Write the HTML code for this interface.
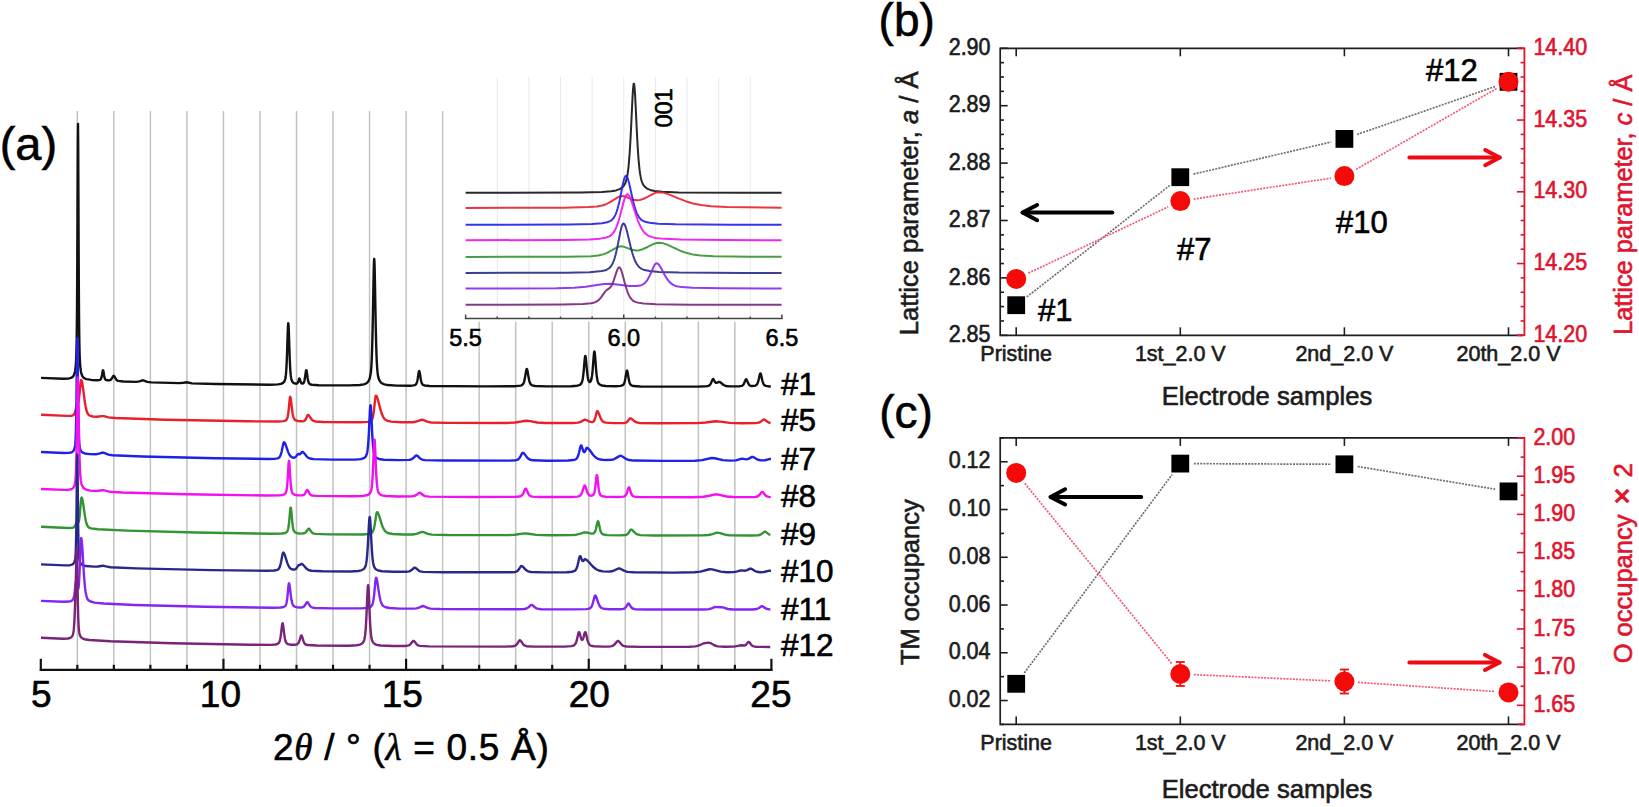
<!DOCTYPE html><html><head><meta charset="utf-8"><title>Figure</title><style>html,body{margin:0;padding:0;background:#fff;overflow:hidden;}svg{display:block;}text{font-family:'Liberation Sans', Arial, Helvetica, sans-serif;stroke-width:0.6px;}</style></head><body>
<svg width="1639" height="807" viewBox="0 0 1639 807" fill="#000">
<rect width="1639" height="807" fill="#fff"/>
<g id="panel-a">
<line x1="77.33" y1="111" x2="77.33" y2="669.8" stroke="#c2c2c2" stroke-width="1.5"/>
<line x1="113.86" y1="111" x2="113.86" y2="669.8" stroke="#c2c2c2" stroke-width="1.5"/>
<line x1="150.39" y1="111" x2="150.39" y2="669.8" stroke="#c2c2c2" stroke-width="1.5"/>
<line x1="186.92" y1="111" x2="186.92" y2="669.8" stroke="#c2c2c2" stroke-width="1.5"/>
<line x1="223.45" y1="111" x2="223.45" y2="669.8" stroke="#c2c2c2" stroke-width="1.5"/>
<line x1="259.98" y1="111" x2="259.98" y2="669.8" stroke="#c2c2c2" stroke-width="1.5"/>
<line x1="296.51" y1="111" x2="296.51" y2="669.8" stroke="#c2c2c2" stroke-width="1.5"/>
<line x1="333.04" y1="111" x2="333.04" y2="669.8" stroke="#c2c2c2" stroke-width="1.5"/>
<line x1="369.57" y1="111" x2="369.57" y2="669.8" stroke="#c2c2c2" stroke-width="1.5"/>
<line x1="406.1" y1="111" x2="406.1" y2="669.8" stroke="#c2c2c2" stroke-width="1.5"/>
<line x1="442.63" y1="111" x2="442.63" y2="669.8" stroke="#c2c2c2" stroke-width="1.5"/>
<line x1="479.16" y1="111" x2="479.16" y2="669.8" stroke="#c2c2c2" stroke-width="1.5"/>
<line x1="515.69" y1="111" x2="515.69" y2="669.8" stroke="#c2c2c2" stroke-width="1.5"/>
<line x1="552.22" y1="111" x2="552.22" y2="669.8" stroke="#c2c2c2" stroke-width="1.5"/>
<line x1="588.75" y1="111" x2="588.75" y2="669.8" stroke="#c2c2c2" stroke-width="1.5"/>
<line x1="625.28" y1="111" x2="625.28" y2="669.8" stroke="#c2c2c2" stroke-width="1.5"/>
<line x1="661.81" y1="111" x2="661.81" y2="669.8" stroke="#c2c2c2" stroke-width="1.5"/>
<line x1="698.34" y1="111" x2="698.34" y2="669.8" stroke="#c2c2c2" stroke-width="1.5"/>
<line x1="734.87" y1="111" x2="734.87" y2="669.8" stroke="#c2c2c2" stroke-width="1.5"/>
<path d="M41 377.83L63 378.76L69 378.45L71 377.93L72 377.42L73 376.54L74 374.9L74.6 373.17L75 371.42L75.2 370.26L75.4 368.84L75.6 367.08L75.8 364.85L76 361.93L76.2 357.93L76.4 352.17L76.6 343.4L76.8 329.72L77 308.66L77.2 277.77L77.4 236L77.6 186.45L77.8 141.51L78 123.92L78.2 146.14L78.4 192.78L78.6 241.82L78.8 282.29L79 311.87L79.2 331.88L79.4 344.84L79.6 353.16L79.8 358.67L80 362.52L80.2 365.36L80.4 367.54L80.6 369.27L80.8 370.67L81.2 372.77L81.8 374.82L82.4 376.13L83.4 377.46L84.4 378.25L86.4 379.1L91.4 379.94L97.4 380.22L100 379.83L100.8 379.13L101.2 378.32L101.6 376.95L102 374.94L102.6 371.36L102.8 370.53L103 370.21L103.2 370.48L103.4 371.28L104.2 375.99L104.6 377.74L105 378.86L105.6 379.72L107 380.32L109.4 380.36L110.8 379.72L111.8 378.49L113.2 376.03L113.8 375.72L114.4 376.35L116 379.28L117 380.34L118.2 380.9L123.2 381.48L136.2 381.83L139.4 381.31L142.4 380.28L144 380.6L147.2 381.89L151.2 382.4L179.2 383.16L183.6 382.78L186.6 382.24L192 383.36L216 384.04L270 384.7L278 384.4L281 383.89L283 382.96L284.2 381.69L284.8 380.48L285.2 379.16L285.4 378.22L285.6 377.03L285.8 375.48L286 373.51L286.2 371.02L286.4 367.91L286.6 364.12L286.8 359.6L287 354.37L287.2 348.53L287.6 335.98L287.8 330.22L288 325.74L288.2 323.31L288.4 323.43L288.6 326.08L288.8 330.71L289 336.55L289.4 349.09L289.6 354.88L289.8 360.05L290 364.5L290.2 368.23L290.4 371.27L290.6 373.71L290.8 375.64L291 377.14L291.2 378.31L291.6 379.94L292.2 381.37L292.8 382.21L293.8 383.05L294.8 383.5L296.6 383.68L297.4 383.24L298 382.22L298.6 380.4L299 379.06L299.2 378.61L299.4 378.45L299.6 378.63L300 379.74L300.6 381.74L301.2 383.02L302 383.61L303 383.45L303.6 382.86L304 382.08L304.4 380.78L304.8 378.82L305.2 376.19L305.8 371.79L306 370.7L306.2 370.1L306.4 370.11L306.6 370.73L306.8 371.84L307.6 377.73L308 380.09L308.4 381.75L309 383.21L309.8 384.06L311.8 384.75L318.8 385.23L349.8 385.42L359.8 384.99L363.8 384.33L365.8 383.58L366.8 382.97L367.8 382.06L368.8 380.65L369.8 378.21L370.8 372.85L371 370.97L371.2 368.63L371.4 365.71L371.6 362.09L371.8 357.64L372 352.25L372.2 345.8L372.4 338.22L372.6 329.51L372.8 319.72L373 309.04L373.4 286.48L373.6 275.92L373.8 267.1L374 261.12L374.2 258.87L374.4 260.74L374.6 266.41L374.8 275.02L375 285.46L375.4 308.02L375.6 318.78L375.8 328.66L376 337.48L376.2 345.17L376.4 351.72L376.6 357.21L376.8 361.75L377 365.44L377.2 368.42L377.4 370.81L377.6 372.74L377.8 374.29L378.2 376.6L378.6 378.2L379.6 380.68L380.6 382.12L381.6 383.05L383.6 384.12L387.6 385.05L396.6 385.66L410.6 385.72L413.6 385.43L414.6 385.19L415.8 384.49L416.4 383.66L417 382.08L417.4 380.44L417.8 378.26L418.6 373.09L418.8 372.05L419 371.33L419.2 371.06L419.4 371.27L419.6 371.93L420 374.17L420.8 379.28L421.2 381.24L421.6 382.67L422.2 384.01L423 384.86L424.6 385.48L429.6 385.95L484.6 386.35L515.6 386.18L520.6 385.62L521.6 385.29L522.8 384.4L523.6 383.04L524.2 381.27L524.8 378.62L525.6 373.92L526.2 370.48L526.4 369.67L526.6 369.15L526.8 368.98L527 369.17L527.2 369.7L527.6 371.57L528.6 377.61L529.2 380.53L529.8 382.57L530.4 383.87L531.2 384.82L532.2 385.39L535.2 386.01L546.2 386.4L571.2 386.23L577.2 385.69L579.2 385.13L580.2 384.62L581.4 383.33L582 381.97L582.4 380.52L582.8 378.44L583.2 375.58L583.6 371.88L584 367.43L584.6 360.38L584.8 358.42L585 356.93L585.2 356.09L585.4 356L585.6 356.67L585.8 358L586 359.85L586.8 368.93L587.2 372.97L587.6 376.17L588 378.52L588.4 380.13L588.8 381.15L589.4 381.89L589.8 382.01L590.8 381.07L591.2 380.02L591.6 378.36L592 375.91L592.2 374.33L592.4 372.51L592.8 368.14L593.6 357.63L593.8 355.24L594 353.29L594.2 352L594.4 351.53L594.6 351.95L594.8 353.19L595 355.12L595.2 357.52L596 368.25L596.4 372.8L596.6 374.72L597 377.83L597.4 380.07L597.8 381.62L598.4 383.08L598.8 383.69L599.8 384.6L601.8 385.44L605.8 386.05L615.8 386.28L620.8 385.92L622.8 385.22L623.6 384.42L624.2 383.25L624.8 381.28L625.4 378.32L626.4 372.27L626.6 371.37L626.8 370.79L627 370.59L627.2 370.81L627.4 371.4L627.8 373.42L628.6 378.37L629.2 381.33L629.8 383.3L630.4 384.47L631.4 385.4L633.4 386.03L640.4 386.5L697.4 386.61L706.4 386.26L708.4 385.9L709.8 385.09L710.8 383.66L712 380.76L712.6 379.41L713 379L713.4 379.13L714.2 380.5L715.2 382.24L716 382.85L717 382.73L719 381.8L720.2 382.15L723.6 385.01L725.8 385.94L729.8 386.39L738.8 386.36L741.8 385.89L743 385.1L743.8 383.95L744.8 381.64L745.6 379.7L746 379.23L746.4 379.34L747 380.46L748.2 383.42L749 384.73L750 385.57L751.6 385.97L754.6 385.83L755.6 385.54L756.8 384.64L757.6 383.23L758.2 381.47L758.8 379.05L759.8 374.56L760.2 373.53L760.4 373.39L760.6 373.53L761 374.54L761.8 378.12L762.4 380.75L763 382.76L763.6 384.12L764.4 385.15L765.8 385.9L769.8 386.46L770.8 386.51" fill="none" stroke="#111111" stroke-width="2.4" stroke-linejoin="round"/>
<path d="M41 414.76L67 415.92L72 415.68L73.4 415.12L74.2 414.17L74.8 412.87L75.4 410.96L76.8 405.34L77.4 403.6L78.2 401.93L78.6 400.56L79 398.36L79.4 395.17L79.8 391.17L80.4 384.75L80.6 382.91L80.8 381.43L81 380.44L81.2 380.02L81.6 380.54L82 381.89L82.4 383.95L83 388.02L84.4 398.92L85 403.11L85.6 406.63L85.8 407.65L86.8 411.55L87.8 413.83L88.8 415.06L89.8 415.7L92.8 416.48L96.8 416.75L101.6 416.1L103.8 416.16L108.4 417.42L115.4 418.06L165.4 419.72L247.4 421.32L278.4 421.51L283.4 421.13L285.4 420.53L286.6 419.53L287.2 418.38L287.6 417.07L288 415.1L288.4 412.3L288.8 408.62L289.6 400.02L289.8 398.32L290 397.21L290.2 396.85L290.4 397.13L290.6 397.91L290.8 399.1L291.2 402.27L292 409.22L292.4 412.14L292.8 414.5L293.2 416.3L293.8 418.13L294.6 419.49L295.6 420.3L297.6 420.98L301.6 421.32L303.6 421.09L305 420.27L306 418.76L307.4 415.54L307.8 415L308.4 415.03L309.4 416.12L311.4 419.09L312.6 420.29L313.6 420.91L315.6 421.49L323.6 422.02L359.6 422.31L367.6 421.92L369.6 421.51L370.6 421.1L371.8 419.96L372.4 418.69L372.8 417.36L373.2 415.51L373.6 413.04L374 409.94L374.6 404.37L375 400.55L375.2 398.83L375.4 397.38L375.6 396.3L375.8 395.7L376.2 395.68L376.8 396.48L377.4 397.99L378.4 401.54L380.4 409.44L381.4 412.76L382.4 415.4L383.4 417.37L384.4 418.77L385.4 419.73L387.4 420.81L391.4 421.66L401.4 422.29L412.4 422.24L415.4 421.79L421.2 419.76L423 419.96L427.2 421.68L431.2 422.45L447.2 422.86L507.2 422.95L515.2 422.55L522.2 421.31L526.4 420.69L530.2 421.13L537.2 422.49L545.2 423.01L572.2 423.07L578.2 422.64L581.2 421.59L584.4 419.78L585.8 419.75L589.6 421.66L591.6 422.08L592.6 421.98L593.8 421.21L594.4 420.26L595 418.72L595.8 415.73L596.6 412.46L597 411.39L597.4 411.15L598 411.72L598.8 413.43L600.6 418.09L601.6 419.98L602.8 421.39L603.8 422.03L605.8 422.6L613.8 423.09L623.8 423L625.8 422.64L627.2 421.75L628.8 419.66L629.8 418.45L630.6 418.35L632 419.18L634.6 421.38L636.6 422.41L639.6 422.98L656.6 423.31L696.6 423.16L705.6 422.54L715.4 421.26L720.4 421.59L729.8 422.85L741.8 423.28L755.8 423.14L758.8 422.68L760.8 421.66L763.4 419.59L764.4 419.5L765.8 420.46L768 422.17L769.6 422.81L770.6 423.01" fill="none" stroke="#e8202c" stroke-width="2.4" stroke-linejoin="round"/>
<path d="M41 451.96L64 453.03L69 452.89L71 452.51L72 452.11L73.2 451.14L74 449.84L74.4 448.77L74.8 447.16L75 445.99L75.2 444.4L75.4 442.14L75.6 438.8L75.8 433.83L76 426.55L76.2 416.3L76.4 402.63L76.6 385.73L76.8 366.9L77 349.32L77.2 338.31L77.4 338.72L77.6 350.36L77.8 368.18L78 386.98L78.2 403.71L78.4 417.17L78.6 427.23L78.8 434.36L79 439.22L79.2 442.49L79.4 444.71L79.6 446.29L79.8 447.45L80.2 449.08L80.8 450.59L81.8 451.97L82.8 452.71L84.8 453.46L89.8 454.15L95.8 454.28L99.2 453.62L102.4 452.54L104.2 452.84L108.4 454.6L112.4 455.23L142.4 456.48L215.4 458.28L268.4 458.96L275.4 458.68L277.4 458.36L278.4 458.01L279.4 457.27L280.4 455.66L281 454.02L281.6 451.75L282.6 446.89L283.2 444.06L283.6 442.76L284 442.25L284.6 442.61L285.2 443.65L286.2 446.35L288 451.62L288.6 453.06L289.6 454.96L290.6 456.26L291.6 457.08L292.6 457.53L293.6 457.71L295 457.42L296.2 456.34L297.8 454.16L298.6 454.02L299.8 454.25L300.6 453.63L302 451.91L302.8 451.99L304 453.08L306.8 456.57L307.8 457.45L309.8 458.5L313.8 459.16L331.8 459.67L354.8 459.63L360.8 459.12L363.8 458.19L364.8 457.54L365.8 456.43L366.8 454.06L367.2 452.28L367.4 451.1L367.6 449.67L367.8 447.96L368 445.92L368.2 443.53L368.4 440.75L368.6 437.59L368.8 434.04L369 430.14L369.6 417.26L369.8 413.15L370 409.58L370.2 406.88L370.4 405.36L370.6 405.22L370.8 406.48L371 408.97L371.2 412.4L371.4 416.43L372 429.35L372.2 433.32L372.4 436.94L372.6 440.19L372.8 443.04L373 445.51L373.2 447.62L373.4 449.4L373.6 450.88L374 453.13L374.4 454.65L375 456.09L376 457.41L377 458.15L379 458.97L384 459.71L399 460.12L409 459.89L411 459.49L412 459.06L413.8 457.63L415.8 455.6L416.8 455.4L418 456.32L420.2 458.56L422 459.56L425 460.09L444 460.48L510 460.58L516 460.23L518 459.53L519.4 458.15L520.6 456.09L522 453.4L522.6 452.81L523.4 452.93L524.6 454.15L527.2 457.66L528.2 458.62L530.2 459.75L533.2 460.32L547.2 460.69L568.2 460.51L573.2 460.07L575.2 459.55L576.2 458.97L577.4 457.48L578.2 455.59L579 452.78L580.2 447.56L580.6 446.19L581 445.45L581.4 445.51L581.8 446.3L583.2 450.83L583.8 451.96L584.4 452.13L585 451.4L586.4 448.17L586.8 447.74L588 448.33L589.6 450.06L593.4 455.23L595.4 457.24L597.4 458.55L600.4 459.56L605.4 460.07L611.4 459.9L614.4 459.1L617.6 457.14L619.6 455.91L621 455.81L622.8 456.78L626 458.97L629 460.05L634 460.57L664 460.9L695 460.71L702 460.11L711.6 458.03L714.8 458.26L722.8 460.08L729.8 460.6L735.8 460.36L739.4 459.39L742 458.68L746.4 459.34L748.4 458.9L752 456.91L753.2 456.95L755.8 458.59L758 459.78L761 460.41L765 460.26L770.2 458.94L771 459.01" fill="none" stroke="#2020e6" stroke-width="2.4" stroke-linejoin="round"/>
<path d="M41 488.95L64 489.89L69 489.68L71 489.27L72 488.85L73 488.12L74 486.72L74.6 485.19L75 483.55L75.2 482.37L75.4 480.8L75.6 478.62L75.8 475.54L76 471.17L76.2 465.06L76.4 456.74L76.6 445.89L76.8 432.48L77 416.97L77.2 400.75L77.4 386.47L77.6 377.89L77.8 377.49L78 382.27L78.2 390.73L78.4 401.44L78.8 424.52L79 435.21L79.2 444.74L79.4 452.96L79.6 459.86L79.8 465.5L80 470.02L80.2 473.59L80.4 476.39L80.6 478.56L80.8 480.26L81 481.6L81.4 483.56L82 485.43L83.2 487.54L84.2 488.54L86.2 489.65L90.2 490.59L96.2 491.01L100.4 490.5L103 490.19L109.4 491.7L122.4 492.46L186.4 494.24L266.4 495.49L279.4 495.34L282.4 494.98L284.4 494.26L285.6 493.1L286.2 491.72L286.6 490.03L286.8 488.82L287 487.3L287.2 485.42L287.4 483.14L287.6 480.45L287.8 477.37L288.4 466.92L288.6 463.86L288.8 461.69L289 460.8L289.2 461.39L289.4 463.32L289.6 466.22L290.2 476.68L290.4 479.84L290.6 482.62L290.8 484.99L291 486.96L291.2 488.56L291.4 489.83L291.8 491.61L292.2 492.69L293 493.83L294.6 494.77L297.6 495.34L301.6 495.4L303.6 494.96L304.6 494.17L305.6 492.6L306.8 490.25L307.4 489.93L308 490.64L309.6 493.78L310.6 494.88L311.8 495.44L316.8 495.92L352.8 496.23L362.8 495.93L366.8 495.29L368.8 494.38L369.8 493.47L370.8 491.63L371.2 490.24L371.6 488.11L371.8 486.64L372 484.82L372.2 482.6L372.4 479.93L372.6 476.77L372.8 473.09L373 468.92L373.2 464.29L373.8 449.3L374 444.92L374.2 441.58L374.4 439.77L374.6 439.75L374.8 441.55L375 444.86L375.2 449.23L375.8 464.23L376 468.87L376.2 473.05L376.4 476.74L376.6 479.91L376.8 482.59L377 484.82L377.2 486.64L377.4 488.12L377.8 490.27L378.2 491.66L378.8 492.95L380 494.3L382 495.32L386 496.04L398 496.5L412 496.37L415 495.77L417 494.54L419 492.92L420 492.78L421.4 493.7L423.6 495.44L425.2 496.11L429.2 496.59L473.2 496.96L515.2 496.87L519.2 496.56L521.2 495.93L522.4 494.83L523.4 493.09L525 489.31L525.6 488.62L526.2 488.98L527 490.67L528.2 493.51L529.2 495.09L530.2 495.95L532.2 496.59L540.2 497.01L571.2 496.97L577.2 496.58L579.2 496.11L580.2 495.53L581.4 494.02L582.2 492.2L583.4 488.33L584 486.48L584.4 485.71L584.8 485.55L585.2 486.02L585.8 487.63L587 491.52L587.8 493.44L588.8 494.87L590.2 495.62L591.2 495.69L592.2 495.5L593.4 494.68L594 493.6L594.4 492.35L594.8 490.48L595.2 487.85L595.6 484.47L596.2 478.7L596.4 477.03L596.6 475.76L596.8 475.09L597 475.11L597.2 475.82L597.4 477.12L597.8 480.74L598.4 486.42L598.8 489.45L599.2 491.71L599.6 493.27L600.2 494.67L601 495.58L602.4 496.25L606.4 496.84L618.4 497L623.4 496.61L624.4 496.31L625.6 495.39L626.4 494.04L627.2 491.81L628.2 488.38L628.6 487.46L629 487.26L629.4 487.87L630.2 490.45L631 493.07L631.8 494.85L632.8 496L634.4 496.65L640.4 497.11L692.4 497.18L703.4 496.77L709.4 495.75L715.2 494.41L718.4 494.55L726.8 496.48L733.8 497.06L751.8 497.13L755.8 496.86L757.8 496.27L759.4 495L761.6 492.19L762.4 491.85L763.2 492.39L765.6 495.42L766.8 496.29L768.8 496.89L770.8 497.09" fill="none" stroke="#f010f0" stroke-width="2.4" stroke-linejoin="round"/>
<path d="M41 526.68L68 527.96L72 527.84L73.8 527.36L74.6 526.65L75.4 525.18L76.6 521.98L77 521.49L77.6 521.83L78.2 522.26L78.6 521.82L78.8 521.25L79 520.42L79.2 519.29L79.4 517.88L79.6 516.17L80 512L80.8 502.45L81 500.44L81.2 498.86L81.4 497.85L81.6 497.52L82 498.03L82.4 499.37L82.8 501.4L83.4 505.3L84.6 513.85L85.2 517.61L85.8 520.71L86 521.58L87 524.87L88 526.68L89 527.62L91 528.39L98 529.26L127 530.61L196 532.53L270 533.7L282 533.48L285 532.97L286 532.55L287.2 531.41L287.8 530.07L288.2 528.54L288.6 526.27L289 523.09L289.4 519L290 512.03L290.2 510L290.4 508.45L290.6 507.6L290.8 507.6L291 508.43L291.2 509.97L291.4 512L292 518.98L292.4 523.08L292.8 526.27L293.2 528.55L293.6 530.09L294.2 531.44L295.2 532.47L297.2 533.23L301.2 533.6L304.2 533.29L305.6 532.51L306.8 531.08L308.2 528.98L308.8 528.63L309.4 528.96L311.6 532.19L313 533.31L315.4 533.9L328.4 534.34L362.4 534.43L368.4 534.04L370.4 533.62L371.4 533.18L372.4 532.25L373.4 530.23L374 528.14L374.6 525.24L375.2 521.57L376.2 515.02L376.6 513.11L376.8 512.51L377 512.21L377.6 512.43L378.2 513.34L379 515.37L381.6 523.87L382.6 526.63L383.6 528.82L384.6 530.46L385.6 531.62L386.6 532.41L388.6 533.3L392.6 534.01L403.6 534.55L412.6 534.48L416.6 533.84L421.8 531.97L423.6 532.16L427.8 533.87L431.8 534.65L447.8 535.05L506.8 535.15L514.8 534.72L524.4 533.38L528.8 533.8L536.4 534.91L549.4 535.3L571.4 535.16L576.4 534.69L580.4 533.64L584.4 532.39L586.8 532.52L591.6 533.67L592.6 533.67L593.6 533.41L594.8 532.19L595.4 530.84L596 528.78L597.4 522.37L597.8 521.34L598 521.21L598.2 521.38L598.6 522.49L599.4 526.29L600 529.07L600.6 531.18L601.2 532.61L602 533.7L603.4 534.49L607.4 535.11L620.4 535.34L625.4 535.07L626.4 534.81L627.8 533.88L629 532.22L630.4 529.9L631 529.52L632 529.88L635.4 533.2L637.4 534.44L640.4 535.12L654.4 535.5L702.4 535.42L708.4 535.01L712.4 534.09L716.8 532.72L719.2 532.83L725.2 534.69L730.2 535.33L751.2 535.53L758.2 535.24L760.2 534.76L762.2 533.57L764.4 531.81L765.4 531.73L767 532.87L769.2 534.5L770.4 534.98" fill="none" stroke="#339433" stroke-width="2.4" stroke-linejoin="round"/>
<path d="M41 564.37L65 565.4L70 565.2L72 564.69L73.4 563.7L74.2 562.43L74.6 561.35L75 559.66L75.2 558.39L75.4 556.6L75.6 553.92L75.8 549.78L76 543.41L76.2 533.92L76.4 520.61L76.6 503.43L76.8 483.71L77 465.26L77.2 454.79L77.4 457.86L77.6 472.7L77.8 492.39L78 511.32L78.2 526.92L78.4 538.54L78.6 546.6L78.8 551.92L79 555.36L79.2 557.62L79.4 559.17L79.6 560.3L80 561.86L80.6 563.27L81.6 564.53L82.8 565.28L85.8 566.05L93.8 566.64L97.8 566.52L102.8 565.7L106 566.44L110.4 567.29L136.4 568.36L211.4 570.13L266.4 570.79L274.4 570.5L277.4 569.86L278.4 569.22L279.4 567.79L280 566.27L280.6 564.11L281.2 561.29L282.4 554.87L282.8 553.33L283 552.85L283.4 552.6L284 553.17L284.6 554.44L285.8 558.14L287.2 562.59L287.8 564.19L288.8 566.32L289.8 567.79L290.8 568.73L291.8 569.28L293.8 569.68L295.4 569.28L296.4 568.37L298.2 565.55L299 565.06L300.2 564.74L301.6 563.82L302.6 564.3L304.4 566.32L306.4 568.6L308.4 569.99L311.4 570.78L322.4 571.32L350.4 571.44L358.4 570.96L361.4 570.3L363.4 569.28L364.4 568.29L365.4 566.38L365.8 565.04L366.2 563.15L366.6 560.49L366.8 558.8L367 556.83L367.2 554.57L367.4 551.99L367.6 549.1L367.8 545.89L368.2 538.68L368.8 527.02L369 523.49L369.2 520.5L369.4 518.28L369.6 517.07L369.8 516.98L370 518.02L370.2 520.09L370.4 522.97L370.6 526.44L371.4 541.84L371.6 545.37L371.8 548.63L372 551.57L372.2 554.2L372.4 556.52L372.6 558.54L372.8 560.27L373.2 563.02L373.6 564.96L374.2 566.87L375.2 568.57L376.2 569.48L378.2 570.46L382.2 571.26L393.2 571.79L406.2 571.74L409.2 571.33L411.2 570.36L414.2 567.75L415.2 567.67L416.6 568.77L418.8 570.69L420.2 571.35L423.2 571.85L444.2 572.22L510.2 572.3L515.2 571.96L516.2 571.69L517.8 570.66L519.2 568.82L520.8 566.37L521.4 565.99L522.4 566.3L524.2 568.16L526 570.06L528 571.35L531 572.04L544 572.41L567 572.2L572 571.73L574 571.19L575 570.62L576.2 569.17L577 567.34L577.6 565.33L578.4 561.88L579.2 558.23L579.6 556.85L580 556.15L580.4 556.22L581 557.46L582 560.11L582.6 560.95L583.2 560.99L584.2 559.86L585 559.1L586.6 559.97L589 562.25L592.8 566.48L595.8 568.98L598.8 570.48L602.8 571.39L608.8 571.65L611.8 571.29L615 570.07L618.2 568.46L619.8 568.49L624.4 570.93L627.4 571.83L633.4 572.32L673.4 572.58L694.4 572.28L700.4 571.58L709.4 569.25L712.2 569.37L720.8 571.63L726.8 572.22L733.8 572.15L737.4 571.42L740.8 570.33L745.2 570.71L747.2 570.09L750 568.58L751.4 568.68L755 571L757 571.79L760 572.2L764 572.03L769.4 570.65L771 570.9" fill="none" stroke="#28288a" stroke-width="2.4" stroke-linejoin="round"/>
<path d="M41 600.84L63 601.8L69 601.57L71 601.11L72.4 600.29L73.2 599.11L73.6 598.04L74 596.44L74.4 594.17L74.8 591.18L75.6 583.93L75.8 582.39L76 581.26L76.2 580.68L76.4 580.73L76.6 581.36L76.8 582.43L77.4 586.5L77.6 587.63L77.8 588.45L78 588.87L78.2 588.82L78.4 588.23L78.6 587.03L78.8 585.16L79 582.58L79.2 579.28L79.4 575.27L79.6 570.61L79.8 565.42L80.2 554.21L80.4 548.79L80.6 544.03L80.8 540.4L81 538.34L81.2 538.06L81.4 538.68L81.6 539.9L81.8 541.67L82 543.92L82.2 546.56L82.6 552.68L83.6 569.29L84 575.34L84.4 580.69L84.8 585.24L85.2 588.98L85.6 591.97L86.6 596.79L87.6 599.16L88.6 600.36L90.6 601.53L94.6 602.6L103.6 603.56L134.6 604.95L204.6 606.77L272.6 607.73L280.6 607.5L283.6 606.96L284.6 606.5L285.6 605.47L286.2 604.11L286.6 602.56L287 600.28L287.4 597.14L287.8 593.19L288.4 586.73L288.6 584.99L288.8 583.79L289 583.31L289.2 583.51L289.4 584.21L289.6 585.32L290 588.4L290.8 595.29L291.2 598.21L291.6 600.58L292 602.4L292.6 604.26L293.4 605.64L294.6 606.56L296.6 607.18L300.6 607.47L302.6 607.19L304 606.38L305.2 604.87L306.6 602.56L307.2 602.1L307.8 602.39L309.2 604.69L310.4 606.38L311.8 607.38L314.8 607.96L332.8 608.41L361.8 608.4L367.8 607.88L369.8 607.31L370.8 606.76L372 605.33L372.6 603.85L373 602.34L373.4 600.26L373.8 597.52L374.2 594.07L374.8 587.81L375.2 583.43L375.4 581.45L375.6 579.78L375.8 578.55L376 577.89L376.2 577.82L376.4 578.06L376.8 579.25L377.2 581.22L377.8 585.04L379 593.12L379.6 596.54L380.2 599.35L380.6 600.87L381.6 603.65L382.6 605.29L383.6 606.25L385.6 607.23L389.6 608.03L399.6 608.62L413.6 608.65L416.6 608.33L419.6 607.29L422.4 606.04L424 606.22L427.4 607.89L430.4 608.63L440.4 609.03L518.4 609.25L524.4 608.98L526.4 608.54L528.2 607.52L531 604.98L532 604.88L533.4 605.98L535.6 607.94L537.2 608.68L541.2 609.19L572.2 609.42L586.2 609.12L589.2 608.65L590.2 608.21L591.4 606.92L592.2 605.21L593 602.61L594.4 597.01L594.8 595.93L595.2 595.52L595.8 595.98L596.4 597.26L598.4 603.25L599.4 605.53L600.6 607.26L601.6 608.05L603.6 608.74L609.6 609.23L620.6 609.22L623.6 608.82L625 608.08L626.2 606.67L627.8 604.01L628.4 603.54L629 603.8L630.2 605.71L631.4 607.52L632.6 608.53L635 609.18L647 609.53L704 609.46L709 609.08L712.2 608.07L715.2 606.85L717.6 607.07L720.6 607.24L723 607.38L727.8 609L732.8 609.46L752.8 609.46L756.8 609.01L759 607.98L761.4 606.3L762.4 606.22L764.2 607.38L766.4 608.74L769.4 609.38L770.4 609.45" fill="none" stroke="#8426f0" stroke-width="2.4" stroke-linejoin="round"/>
<path d="M41 637.75L63 638.75L68 638.51L70 638.01L71 637.47L72.2 636.2L72.8 634.91L73.2 633.42L73.4 632.36L73.6 630.99L73.8 629.23L74 627.01L74.2 624.25L74.4 620.87L74.6 616.83L74.8 612.08L75 606.66L75.2 600.7L75.4 594.34L75.6 587.65L75.8 580.48L76 572.55L76.4 555.48L76.6 549.23L76.8 547.77L77 552.57L77.2 562.53L77.6 587.67L77.8 599.01L78 608.46L78.2 615.9L78.4 621.5L78.6 625.58L78.8 628.5L79 630.58L79.2 632.09L79.4 633.21L79.8 634.78L80.4 636.24L81.4 637.63L82.4 638.4L84.4 639.22L89.4 640.03L110.4 641.22L172.4 643.25L250.4 644.8L271.4 644.84L275.4 644.51L277.4 643.97L278.6 643.13L279.2 642.23L279.8 640.62L280.2 638.95L280.6 636.68L281 633.81L281.8 627.02L282 625.49L282.2 624.27L282.4 623.49L282.6 623.23L282.8 623.53L283 624.36L283.2 625.61L283.6 628.86L284.2 633.95L284.6 636.81L285 639.05L285.4 640.7L286 642.3L286.8 643.4L288 644.12L291 644.72L295 644.75L297 644.33L298.2 643.37L299 641.94L299.8 639.63L300.8 636.27L301.2 635.5L301.6 635.5L302 636.26L303.4 640.95L304.2 642.86L305 643.96L305.8 644.52L307.8 645.05L316.8 645.52L348.8 645.68L356.8 645.25L359.8 644.65L361.8 643.72L362.8 642.83L363.8 641.2L364.4 639.34L364.8 637.35L365 636.02L365.2 634.42L365.4 632.5L365.6 630.22L365.8 627.54L366 624.44L366.2 620.91L366.4 616.95L366.6 612.61L367.2 598.31L367.4 593.77L367.6 589.85L367.8 586.92L368 585.32L368.2 585.25L368.4 586.73L368.6 589.56L368.8 593.41L369 597.91L369.6 612.23L369.8 616.6L370 620.6L370.2 624.18L370.4 627.32L370.6 630.04L370.8 632.36L371 634.31L371.2 635.94L371.6 638.4L372 640.07L372.6 641.66L373.6 643.1L374.6 643.93L376.6 644.82L380.6 645.54L392.6 646.05L405.6 645.95L408.6 645.42L410.2 644.39L412 642.15L413 641.02L413.8 640.89L414.8 641.86L416.8 644.41L418 645.29L420 645.91L429 646.34L505 646.61L513 646.27L515 645.75L516.4 644.78L517.8 642.96L519.2 640.77L519.8 640.29L520.4 640.39L521.4 641.65L523.2 644.36L524.4 645.45L526.4 646.2L533.4 646.64L564.4 646.62L571.4 646.15L573.4 645.65L574.4 645.1L575.6 643.58L576.2 642.16L576.8 640.16L577.8 635.73L578.4 633.23L578.8 632.26L579.2 632.17L579.6 632.97L580.4 635.95L581 638.13L581.6 639.57L582.2 640.02L582.8 639.42L583.4 637.85L584.6 633.32L585 632.32L585.4 632.14L585.8 632.88L586.4 635.22L587.4 639.72L588 641.84L588.6 643.36L589.4 644.62L590.8 645.61L593.8 646.27L602.8 646.64L609.8 646.44L611.8 646.11L612.8 645.75L614.4 644.63L617.2 641.28L618 640.9L618.8 641.27L621.8 644.83L623.4 645.88L626.4 646.53L640.4 646.9L689.4 646.8L695.4 646.41L698.4 645.69L704 643.24L708.6 642.61L710.4 643.07L714.8 645.5L717.8 646.33L724.8 646.78L733.8 646.67L738 645.89L741 645.3L744.4 645.54L745.8 644.9L747.2 643.29L748.2 642.07L748.8 641.88L749.6 642.54L751.4 645.05L752.8 646.13L755.2 646.69L769.2 647.03L770.2 647.03" fill="none" stroke="#782478" stroke-width="2.4" stroke-linejoin="round"/>
<line x1="39.8" y1="669.8" x2="772.4" y2="669.8" stroke="#111" stroke-width="2.2"/>
<line x1="40.8" y1="670.8" x2="40.8" y2="658.8" stroke="#111" stroke-width="2.2"/>
<line x1="77.33" y1="670.8" x2="77.33" y2="664.8" stroke="#111" stroke-width="2.2"/>
<line x1="113.86" y1="670.8" x2="113.86" y2="664.8" stroke="#111" stroke-width="2.2"/>
<line x1="150.39" y1="670.8" x2="150.39" y2="664.8" stroke="#111" stroke-width="2.2"/>
<line x1="186.92" y1="670.8" x2="186.92" y2="664.8" stroke="#111" stroke-width="2.2"/>
<line x1="223.45" y1="670.8" x2="223.45" y2="658.8" stroke="#111" stroke-width="2.2"/>
<line x1="259.98" y1="670.8" x2="259.98" y2="664.8" stroke="#111" stroke-width="2.2"/>
<line x1="296.51" y1="670.8" x2="296.51" y2="664.8" stroke="#111" stroke-width="2.2"/>
<line x1="333.04" y1="670.8" x2="333.04" y2="664.8" stroke="#111" stroke-width="2.2"/>
<line x1="369.57" y1="670.8" x2="369.57" y2="664.8" stroke="#111" stroke-width="2.2"/>
<line x1="406.1" y1="670.8" x2="406.1" y2="658.8" stroke="#111" stroke-width="2.2"/>
<line x1="442.63" y1="670.8" x2="442.63" y2="664.8" stroke="#111" stroke-width="2.2"/>
<line x1="479.16" y1="670.8" x2="479.16" y2="664.8" stroke="#111" stroke-width="2.2"/>
<line x1="515.69" y1="670.8" x2="515.69" y2="664.8" stroke="#111" stroke-width="2.2"/>
<line x1="552.22" y1="670.8" x2="552.22" y2="664.8" stroke="#111" stroke-width="2.2"/>
<line x1="588.75" y1="670.8" x2="588.75" y2="658.8" stroke="#111" stroke-width="2.2"/>
<line x1="625.28" y1="670.8" x2="625.28" y2="664.8" stroke="#111" stroke-width="2.2"/>
<line x1="661.81" y1="670.8" x2="661.81" y2="664.8" stroke="#111" stroke-width="2.2"/>
<line x1="698.34" y1="670.8" x2="698.34" y2="664.8" stroke="#111" stroke-width="2.2"/>
<line x1="734.87" y1="670.8" x2="734.87" y2="664.8" stroke="#111" stroke-width="2.2"/>
<line x1="771.4" y1="670.8" x2="771.4" y2="658.8" stroke="#111" stroke-width="2.2"/>
<text x="41.3" y="706.5" font-size="37" text-anchor="middle" stroke="#000">5</text>
<text x="220.45" y="706.5" font-size="37" text-anchor="middle" stroke="#000">10</text>
<text x="402.3" y="706.5" font-size="37" text-anchor="middle" stroke="#000">15</text>
<text x="589.25" y="706.5" font-size="37" text-anchor="middle" stroke="#000">20</text>
<text x="770.9" y="706.5" font-size="37" text-anchor="middle" stroke="#000">25</text>
<text x="273" y="760" font-size="37" letter-spacing="0.7" stroke="#000">2<tspan font-family="'Liberation Serif', 'Times New Roman', serif" font-style="italic">θ</tspan> / ° (<tspan font-family="'Liberation Serif', 'Times New Roman', serif" font-style="italic">λ</tspan> = 0.5 Å)</text>
<text x="781" y="394.5" font-size="31.5" stroke="#000">#1</text>
<text x="781" y="431.3" font-size="31.5" stroke="#000">#5</text>
<text x="781" y="469.7" font-size="31.5" stroke="#000">#7</text>
<text x="781" y="506.5" font-size="31.5" stroke="#000">#8</text>
<text x="781" y="545.4" font-size="31.5" stroke="#000">#9</text>
<text x="781" y="582.1" font-size="31.5" stroke="#000">#10</text>
<text x="781" y="619.7" font-size="31.5" stroke="#000">#11</text>
<text x="781" y="656.3" font-size="31.5" stroke="#000">#12</text>
<text x="-0.3" y="159.6" font-size="47" stroke="#000">(a)</text>
</g>
<g id="inset">
<rect x="461" y="70" width="334" height="251.6" fill="#fff"/>
<line x1="497.23" y1="77" x2="497.23" y2="318.6" stroke="#e9e9e9" stroke-width="1"/>
<line x1="528.86" y1="77" x2="528.86" y2="318.6" stroke="#e9e9e9" stroke-width="1"/>
<line x1="560.49" y1="77" x2="560.49" y2="318.6" stroke="#e9e9e9" stroke-width="1"/>
<line x1="592.12" y1="77" x2="592.12" y2="318.6" stroke="#e9e9e9" stroke-width="1"/>
<line x1="623.75" y1="77" x2="623.75" y2="318.6" stroke="#e9e9e9" stroke-width="1"/>
<line x1="655.38" y1="77" x2="655.38" y2="318.6" stroke="#e9e9e9" stroke-width="1"/>
<line x1="687.01" y1="77" x2="687.01" y2="318.6" stroke="#e9e9e9" stroke-width="1"/>
<line x1="718.64" y1="77" x2="718.64" y2="318.6" stroke="#e9e9e9" stroke-width="1"/>
<line x1="750.27" y1="77" x2="750.27" y2="318.6" stroke="#e9e9e9" stroke-width="1"/>
<path d="M465.6 192.77L580.6 192.52L602.1 192.03L611.1 191.32L616.1 190.4L619.6 189.14L621.6 187.94L623.1 186.6L624.1 185.33L625.1 183.57L625.6 182.4L626.1 180.95L626.6 179.13L627.1 176.85L627.6 173.98L628.1 170.37L628.6 165.89L629.1 160.41L629.6 153.81L630.1 146.04L630.6 137.12L631.1 127.19L632.1 105.93L632.6 96.1L633.1 88.35L633.6 83.95L634.1 83.76L634.6 87.82L635.1 95.33L635.6 105.03L636.6 126.3L637.1 136.3L637.6 145.31L638.1 153.18L638.6 159.88L639.1 165.46L639.6 170.02L640.1 173.7L640.6 176.63L641.1 178.96L641.6 180.81L642.1 182.29L642.6 183.48L643.6 185.27L645.1 187.06L647.1 188.58L650.1 189.94L654.6 191.02L662.1 191.83L678.6 192.41L740.1 192.73L781.6 192.76" fill="none" stroke="#111111" stroke-width="2" stroke-linejoin="round" opacity="0.9"/>
<path d="M465.6 208.01L563.1 207.67L588.6 207.11L597.1 206.46L602.1 205.53L606.1 204.19L610.1 202.17L617.6 197.4L620.1 196.35L622.1 196.05L624.6 196.41L629.6 198.42L633.6 199.81L636.6 200.23L639.6 200.02L643.1 199.02L647.6 196.85L653.6 193.57L656.6 192.47L659.1 192.18L663.1 192.62L667.6 193.87L677.1 197.81L685.6 201.17L693.1 203.42L701.1 205.03L711.1 206.19L727.1 207.01L765.1 207.62L781.6 207.74" fill="none" stroke="#e8202c" stroke-width="2" stroke-linejoin="round" opacity="0.9"/>
<path d="M465.6 224.76L569.6 224.5L592.1 223.97L602.1 223.19L607.1 222.27L610.1 221.13L612.1 219.7L613.6 217.98L614.6 216.39L615.6 214.34L616.6 211.76L617.6 208.59L618.6 204.82L619.6 200.48L621.1 193.14L622.6 185.56L623.6 181.06L624.1 179.19L624.6 177.67L625.1 176.56L625.6 175.94L626.1 175.82L626.6 176.14L627.1 176.88L627.6 178L628.1 179.46L628.6 181.19L629.6 185.28L632.6 198.92L633.6 203.05L634.6 206.73L635.6 209.92L636.6 212.6L637.6 214.82L639.1 217.36L640.6 219.14L642.6 220.69L645.1 221.81L649.6 222.84L658.1 223.7L675.6 224.33L731.6 224.69L781.6 224.75" fill="none" stroke="#2020e6" stroke-width="2" stroke-linejoin="round" opacity="0.9"/>
<path d="M465.6 240.25L565.1 239.96L589.1 239.42L600.1 238.63L605.6 237.69L608.6 236.67L610.6 235.51L612.1 234.21L613.6 232.39L615.1 229.91L616.6 226.62L618.1 222.46L619.6 217.44L621.1 211.74L623.1 203.82L624.1 200.2L625.1 197.2L625.6 196.04L626.1 195.15L626.6 194.57L627.1 194.31L627.6 194.36L628.1 194.63L629.1 195.77L630.1 197.64L631.1 200.09L632.6 204.46L636.1 215.48L637.6 219.77L639.1 223.56L640.6 226.79L642.1 229.45L643.6 231.59L645.6 233.74L648.1 235.56L651.1 236.88L655.6 237.94L664.1 238.87L681.1 239.61L724.1 240.08L781.6 240.21" fill="none" stroke="#f010f0" stroke-width="2" stroke-linejoin="round" opacity="0.9"/>
<path d="M465.6 256.93L568.6 256.63L591.1 256.13L598.1 255.49L603.1 254.38L607.1 252.84L612.1 250.09L616.6 247.53L619.1 246.61L621.6 246.37L624.1 246.82L632.1 249.78L635.6 250.4L639.1 250.21L642.6 249.26L647.6 246.97L653.6 243.96L656.6 242.98L659.1 242.71L662.6 243.13L666.6 244.43L680.1 250.7L686.1 252.84L692.6 254.39L700.6 255.46L713.6 256.16L751.1 256.69L781.6 256.82" fill="none" stroke="#339433" stroke-width="2" stroke-linejoin="round" opacity="0.9"/>
<path d="M465.6 272.96L567.1 272.69L589.6 272.16L599.6 271.37L604.6 270.44L607.1 269.53L609.1 268.26L610.6 266.73L611.6 265.31L612.6 263.47L613.6 261.12L614.6 258.2L615.6 254.68L616.6 250.56L617.6 245.9L620.1 233.21L620.6 230.85L621.1 228.69L621.6 226.82L622.1 225.3L622.6 224.22L623.1 223.62L623.6 223.52L624.1 223.82L624.6 224.47L625.1 225.45L625.6 226.72L626.1 228.25L627.1 231.88L629.1 240.28L630.6 246.57L632.1 252.23L633.1 255.51L634.1 258.38L635.1 260.82L636.6 263.75L638.1 265.91L639.6 267.46L641.6 268.85L644.6 270.07L649.6 271.07L659.1 271.93L679.1 272.55L745.1 272.9L781.6 272.94" fill="none" stroke="#28288a" stroke-width="2" stroke-linejoin="round" opacity="0.9"/>
<path d="M465.6 288.54L556.6 288.26L574.1 287.72L585.6 286.68L603.6 284.08L609.6 283.86L617.1 284.49L629.6 285.93L636.1 286.09L640.1 285.58L642.6 284.65L644.6 283.26L646.1 281.68L647.6 279.55L649.1 276.84L651.1 272.48L653.6 266.79L654.6 264.97L655.6 263.73L656.1 263.4L657.1 263.35L658.1 263.9L659.1 264.96L660.6 267.26L665.1 275.72L667.1 278.96L669.1 281.54L671.1 283.46L673.6 285.08L676.6 286.22L681.6 287.12L692.6 287.82L721.6 288.33L781.6 288.52" fill="none" stroke="#8426f0" stroke-width="2" stroke-linejoin="round" opacity="0.9"/>
<path d="M465.6 304.76L562.6 304.49L583.1 303.98L591.1 303.28L594.6 302.47L597.1 301.25L599.1 299.63L601.1 297.31L605.1 291.63L606.6 290.09L609.6 288.06L610.6 287.01L611.6 285.49L612.6 283.44L613.6 280.88L615.1 276.31L616.6 271.64L617.6 269.12L618.1 268.21L618.6 267.61L619.1 267.35L619.6 267.46L620.1 267.94L620.6 268.77L621.1 269.91L621.6 271.32L622.6 274.7L625.1 284.19L626.6 289.29L627.6 292.17L628.6 294.59L629.6 296.57L631.1 298.81L632.6 300.34L634.6 301.61L637.6 302.63L643.6 303.52L656.1 304.21L690.6 304.63L781.6 304.77" fill="none" stroke="#782478" stroke-width="2" stroke-linejoin="round" opacity="0.9"/>
<line x1="464.9" y1="318.6" x2="782.6" y2="318.6" stroke="#444" stroke-width="1.5"/>
<line x1="465.6" y1="318.6" x2="465.6" y2="314.6" stroke="#444" stroke-width="1.5"/>
<line x1="497.23" y1="318.6" x2="497.23" y2="316.6" stroke="#444" stroke-width="1.5"/>
<line x1="528.86" y1="318.6" x2="528.86" y2="316.6" stroke="#444" stroke-width="1.5"/>
<line x1="560.49" y1="318.6" x2="560.49" y2="316.6" stroke="#444" stroke-width="1.5"/>
<line x1="592.12" y1="318.6" x2="592.12" y2="316.6" stroke="#444" stroke-width="1.5"/>
<line x1="623.75" y1="318.6" x2="623.75" y2="314.6" stroke="#444" stroke-width="1.5"/>
<line x1="655.38" y1="318.6" x2="655.38" y2="316.6" stroke="#444" stroke-width="1.5"/>
<line x1="687.01" y1="318.6" x2="687.01" y2="316.6" stroke="#444" stroke-width="1.5"/>
<line x1="718.64" y1="318.6" x2="718.64" y2="316.6" stroke="#444" stroke-width="1.5"/>
<line x1="750.27" y1="318.6" x2="750.27" y2="316.6" stroke="#444" stroke-width="1.5"/>
<line x1="781.9" y1="318.6" x2="781.9" y2="314.6" stroke="#444" stroke-width="1.5"/>
<text x="465.6" y="345.6" font-size="23.5" text-anchor="middle" stroke="#000">5.5</text>
<text x="623.75" y="345.6" font-size="23.5" text-anchor="middle" stroke="#000">6.0</text>
<text x="781.9" y="345.6" font-size="23.5" text-anchor="middle" stroke="#000">6.5</text>
<text transform="translate(671.5 108) rotate(-90)" font-size="23.5" text-anchor="middle" stroke="#000">001</text>
</g>
<g id="panel-b">
<path d="M1522.4 48.3H1000.2V335.3H1522.4" fill="none" stroke="#1e1e1e" stroke-width="1.7"/>
<line x1="1524.4" y1="47.5" x2="1524.4" y2="336.1" stroke="#e0142e" stroke-width="1.8"/>
<line x1="1518.4" y1="48.3" x2="1524.4" y2="48.3" stroke="#e0142e" stroke-width="1.7"/>
<line x1="1518.4" y1="335.3" x2="1524.4" y2="335.3" stroke="#e0142e" stroke-width="1.7"/>
<line x1="1016.2" y1="335.3" x2="1016.2" y2="327.3" stroke="#1e1e1e" stroke-width="1.6"/>
<line x1="1016.2" y1="48.3" x2="1016.2" y2="56.3" stroke="#1e1e1e" stroke-width="1.6"/>
<line x1="1180.3" y1="335.3" x2="1180.3" y2="327.3" stroke="#1e1e1e" stroke-width="1.6"/>
<line x1="1180.3" y1="48.3" x2="1180.3" y2="56.3" stroke="#1e1e1e" stroke-width="1.6"/>
<line x1="1344.4" y1="335.3" x2="1344.4" y2="327.3" stroke="#1e1e1e" stroke-width="1.6"/>
<line x1="1344.4" y1="48.3" x2="1344.4" y2="56.3" stroke="#1e1e1e" stroke-width="1.6"/>
<line x1="1508.5" y1="335.3" x2="1508.5" y2="327.3" stroke="#1e1e1e" stroke-width="1.6"/>
<line x1="1508.5" y1="48.3" x2="1508.5" y2="56.3" stroke="#1e1e1e" stroke-width="1.6"/>
<line x1="1000.2" y1="335.3" x2="1007.7" y2="335.3" stroke="#1e1e1e" stroke-width="1.6"/>
<text transform="translate(990.5 341.9) scale(1 1.09)" font-size="21.5" text-anchor="end" fill="#1c1c1c" stroke="#1c1c1c">2.85</text>
<line x1="1000.2" y1="320.95" x2="1004" y2="320.95" stroke="#1e1e1e" stroke-width="1.6"/>
<line x1="1000.2" y1="306.6" x2="1004" y2="306.6" stroke="#1e1e1e" stroke-width="1.6"/>
<line x1="1000.2" y1="292.25" x2="1004" y2="292.25" stroke="#1e1e1e" stroke-width="1.6"/>
<line x1="1000.2" y1="277.9" x2="1007.7" y2="277.9" stroke="#1e1e1e" stroke-width="1.6"/>
<text transform="translate(990.5 284.5) scale(1 1.09)" font-size="21.5" text-anchor="end" fill="#1c1c1c" stroke="#1c1c1c">2.86</text>
<line x1="1000.2" y1="263.55" x2="1004" y2="263.55" stroke="#1e1e1e" stroke-width="1.6"/>
<line x1="1000.2" y1="249.2" x2="1004" y2="249.2" stroke="#1e1e1e" stroke-width="1.6"/>
<line x1="1000.2" y1="234.85" x2="1004" y2="234.85" stroke="#1e1e1e" stroke-width="1.6"/>
<line x1="1000.2" y1="220.5" x2="1007.7" y2="220.5" stroke="#1e1e1e" stroke-width="1.6"/>
<text transform="translate(990.5 227.1) scale(1 1.09)" font-size="21.5" text-anchor="end" fill="#1c1c1c" stroke="#1c1c1c">2.87</text>
<line x1="1000.2" y1="206.15" x2="1004" y2="206.15" stroke="#1e1e1e" stroke-width="1.6"/>
<line x1="1000.2" y1="191.8" x2="1004" y2="191.8" stroke="#1e1e1e" stroke-width="1.6"/>
<line x1="1000.2" y1="177.45" x2="1004" y2="177.45" stroke="#1e1e1e" stroke-width="1.6"/>
<line x1="1000.2" y1="163.1" x2="1007.7" y2="163.1" stroke="#1e1e1e" stroke-width="1.6"/>
<text transform="translate(990.5 169.7) scale(1 1.09)" font-size="21.5" text-anchor="end" fill="#1c1c1c" stroke="#1c1c1c">2.88</text>
<line x1="1000.2" y1="148.75" x2="1004" y2="148.75" stroke="#1e1e1e" stroke-width="1.6"/>
<line x1="1000.2" y1="134.4" x2="1004" y2="134.4" stroke="#1e1e1e" stroke-width="1.6"/>
<line x1="1000.2" y1="120.05" x2="1004" y2="120.05" stroke="#1e1e1e" stroke-width="1.6"/>
<line x1="1000.2" y1="105.7" x2="1007.7" y2="105.7" stroke="#1e1e1e" stroke-width="1.6"/>
<text transform="translate(990.5 112.3) scale(1 1.09)" font-size="21.5" text-anchor="end" fill="#1c1c1c" stroke="#1c1c1c">2.89</text>
<line x1="1000.2" y1="91.35" x2="1004" y2="91.35" stroke="#1e1e1e" stroke-width="1.6"/>
<line x1="1000.2" y1="77" x2="1004" y2="77" stroke="#1e1e1e" stroke-width="1.6"/>
<line x1="1000.2" y1="62.65" x2="1004" y2="62.65" stroke="#1e1e1e" stroke-width="1.6"/>
<line x1="1000.2" y1="48.3" x2="1007.7" y2="48.3" stroke="#1e1e1e" stroke-width="1.6"/>
<text transform="translate(990.5 54.9) scale(1 1.09)" font-size="21.5" text-anchor="end" fill="#1c1c1c" stroke="#1c1c1c">2.90</text>
<line x1="1524.4" y1="335.3" x2="1516.9" y2="335.3" stroke="#e0142e" stroke-width="1.6"/>
<text transform="translate(1533.4 341.9) scale(1 1.09)" font-size="21.5" fill="#e0142e" stroke="#e0142e">14.20</text>
<line x1="1524.4" y1="320.95" x2="1520.6" y2="320.95" stroke="#e0142e" stroke-width="1.6"/>
<line x1="1524.4" y1="306.6" x2="1520.6" y2="306.6" stroke="#e0142e" stroke-width="1.6"/>
<line x1="1524.4" y1="292.25" x2="1520.6" y2="292.25" stroke="#e0142e" stroke-width="1.6"/>
<line x1="1524.4" y1="277.9" x2="1520.6" y2="277.9" stroke="#e0142e" stroke-width="1.6"/>
<line x1="1524.4" y1="263.55" x2="1516.9" y2="263.55" stroke="#e0142e" stroke-width="1.6"/>
<text transform="translate(1533.4 270.15) scale(1 1.09)" font-size="21.5" fill="#e0142e" stroke="#e0142e">14.25</text>
<line x1="1524.4" y1="249.2" x2="1520.6" y2="249.2" stroke="#e0142e" stroke-width="1.6"/>
<line x1="1524.4" y1="234.85" x2="1520.6" y2="234.85" stroke="#e0142e" stroke-width="1.6"/>
<line x1="1524.4" y1="220.5" x2="1520.6" y2="220.5" stroke="#e0142e" stroke-width="1.6"/>
<line x1="1524.4" y1="206.15" x2="1520.6" y2="206.15" stroke="#e0142e" stroke-width="1.6"/>
<line x1="1524.4" y1="191.8" x2="1516.9" y2="191.8" stroke="#e0142e" stroke-width="1.6"/>
<text transform="translate(1533.4 198.4) scale(1 1.09)" font-size="21.5" fill="#e0142e" stroke="#e0142e">14.30</text>
<line x1="1524.4" y1="177.45" x2="1520.6" y2="177.45" stroke="#e0142e" stroke-width="1.6"/>
<line x1="1524.4" y1="163.1" x2="1520.6" y2="163.1" stroke="#e0142e" stroke-width="1.6"/>
<line x1="1524.4" y1="148.75" x2="1520.6" y2="148.75" stroke="#e0142e" stroke-width="1.6"/>
<line x1="1524.4" y1="134.4" x2="1520.6" y2="134.4" stroke="#e0142e" stroke-width="1.6"/>
<line x1="1524.4" y1="120.05" x2="1516.9" y2="120.05" stroke="#e0142e" stroke-width="1.6"/>
<text transform="translate(1533.4 126.65) scale(1 1.09)" font-size="21.5" fill="#e0142e" stroke="#e0142e">14.35</text>
<line x1="1524.4" y1="105.7" x2="1520.6" y2="105.7" stroke="#e0142e" stroke-width="1.6"/>
<line x1="1524.4" y1="91.35" x2="1520.6" y2="91.35" stroke="#e0142e" stroke-width="1.6"/>
<line x1="1524.4" y1="77" x2="1520.6" y2="77" stroke="#e0142e" stroke-width="1.6"/>
<line x1="1524.4" y1="62.65" x2="1520.6" y2="62.65" stroke="#e0142e" stroke-width="1.6"/>
<line x1="1524.4" y1="48.3" x2="1516.9" y2="48.3" stroke="#e0142e" stroke-width="1.6"/>
<text transform="translate(1533.4 54.9) scale(1 1.09)" font-size="21.5" fill="#e0142e" stroke="#e0142e">14.40</text>
<text x="1016.2" y="360.5" font-size="21.5" text-anchor="middle" fill="#1c1c1c" stroke="#1c1c1c">Pristine</text>
<text x="1180.3" y="360.5" font-size="21.5" text-anchor="middle" fill="#1c1c1c" stroke="#1c1c1c">1st_2.0 V</text>
<text x="1344.4" y="360.5" font-size="21.5" text-anchor="middle" fill="#1c1c1c" stroke="#1c1c1c">2nd_2.0 V</text>
<text x="1508.5" y="360.5" font-size="21.5" text-anchor="middle" fill="#1c1c1c" stroke="#1c1c1c">20th_2.0 V</text>
<text x="1267" y="405.2" font-size="25.6" text-anchor="middle" fill="#1c1c1c" stroke="#1c1c1c">Electrode samples</text>
<line x1="1026.84" y1="296.9" x2="1169.66" y2="185.5" stroke="#707070" stroke-width="1.7" stroke-dasharray="2 1.2" opacity="1.0"/>
<line x1="1193.45" y1="174.13" x2="1331.25" y2="141.97" stroke="#707070" stroke-width="1.7" stroke-dasharray="2 1.2" opacity="1.0"/>
<line x1="1357.15" y1="134.46" x2="1495.75" y2="86.24" stroke="#707070" stroke-width="1.7" stroke-dasharray="2 1.2" opacity="1.0"/>
<line x1="1028.4" y1="273.12" x2="1168.1" y2="206.88" stroke="#f25a74" stroke-width="1.7" stroke-dasharray="2 1.2" opacity="1.0"/>
<line x1="1193.65" y1="199.07" x2="1331.05" y2="178.13" stroke="#f25a74" stroke-width="1.7" stroke-dasharray="2 1.2" opacity="1.0"/>
<line x1="1356.1" y1="169.37" x2="1496.8" y2="88.43" stroke="#f25a74" stroke-width="1.7" stroke-dasharray="2 1.2" opacity="1.0"/>
<rect x="1007.3" y="296.3" width="17.8" height="17.8" fill="#000"/>
<rect x="1171.4" y="168.3" width="17.8" height="17.8" fill="#000"/>
<rect x="1335.5" y="130" width="17.8" height="17.8" fill="#000"/>
<rect x="1499.6" y="72.9" width="17.8" height="17.8" fill="#000"/>
<circle cx="1016.2" cy="278.9" r="10" fill="#f50a0a"/>
<circle cx="1180.3" cy="201.1" r="10" fill="#f50a0a"/>
<circle cx="1344.4" cy="176.1" r="10" fill="#f50a0a"/>
<circle cx="1508.5" cy="81.7" r="10" fill="#f50a0a"/>
<line x1="1112.3" y1="212.6" x2="1022.6" y2="212.6" stroke="#000" stroke-width="4.0" stroke-linecap="round"/>
<polyline points="1037.1,205 1022.6,212.6 1037.1,220.2" fill="none" stroke="#000" stroke-width="4.0" stroke-linecap="round" stroke-linejoin="round"/>
<line x1="1409.4" y1="157.6" x2="1499.7" y2="157.6" stroke="#ee0a14" stroke-width="4.0" stroke-linecap="round"/>
<polyline points="1485.2,150 1499.7,157.6 1485.2,165.2" fill="none" stroke="#ee0a14" stroke-width="4.0" stroke-linecap="round" stroke-linejoin="round"/>
<text x="1038" y="320.6" font-size="31" fill="#000" stroke="#000">#1</text>
<text x="1177" y="260.1" font-size="31" fill="#000" stroke="#000">#7</text>
<text x="1336" y="232.8" font-size="31" fill="#000" stroke="#000">#10</text>
<text x="1426" y="81" font-size="31" fill="#000" stroke="#000">#12</text>
<text transform="translate(918 203.4) rotate(-90)" font-size="25.5" text-anchor="middle" fill="#1c1c1c" stroke="#1c1c1c">Lattice parameter, <tspan font-style="italic">a</tspan> / Å</text>
<text transform="translate(1632 204.8) rotate(-90)" font-size="25.3" text-anchor="middle" fill="#e0142e" stroke="#e0142e">Lattice parameter, <tspan font-style="italic">c</tspan> / Å</text>
<text x="878.6" y="36" font-size="46" fill="#000" stroke="#000">(b)</text>
</g>
<g id="panel-c">
<path d="M1522.4 437.9H1000.2V724.4H1522.4" fill="none" stroke="#1e1e1e" stroke-width="1.7"/>
<line x1="1524.4" y1="437.1" x2="1524.4" y2="725.2" stroke="#e0142e" stroke-width="1.8"/>
<line x1="1518.4" y1="437.9" x2="1524.4" y2="437.9" stroke="#e0142e" stroke-width="1.7"/>
<line x1="1518.4" y1="724.4" x2="1524.4" y2="724.4" stroke="#e0142e" stroke-width="1.7"/>
<line x1="1016.2" y1="724.4" x2="1016.2" y2="716.4" stroke="#1e1e1e" stroke-width="1.6"/>
<line x1="1016.2" y1="437.9" x2="1016.2" y2="445.9" stroke="#1e1e1e" stroke-width="1.6"/>
<line x1="1180.3" y1="724.4" x2="1180.3" y2="716.4" stroke="#1e1e1e" stroke-width="1.6"/>
<line x1="1180.3" y1="437.9" x2="1180.3" y2="445.9" stroke="#1e1e1e" stroke-width="1.6"/>
<line x1="1344.4" y1="724.4" x2="1344.4" y2="716.4" stroke="#1e1e1e" stroke-width="1.6"/>
<line x1="1344.4" y1="437.9" x2="1344.4" y2="445.9" stroke="#1e1e1e" stroke-width="1.6"/>
<line x1="1508.5" y1="724.4" x2="1508.5" y2="716.4" stroke="#1e1e1e" stroke-width="1.6"/>
<line x1="1508.5" y1="437.9" x2="1508.5" y2="445.9" stroke="#1e1e1e" stroke-width="1.6"/>
<line x1="1000.2" y1="724.4" x2="1004" y2="724.4" stroke="#1e1e1e" stroke-width="1.6"/>
<line x1="1000.2" y1="700.52" x2="1007.7" y2="700.52" stroke="#1e1e1e" stroke-width="1.6"/>
<text transform="translate(990.5 707.12) scale(1 1.09)" font-size="21.5" text-anchor="end" fill="#1c1c1c" stroke="#1c1c1c">0.02</text>
<line x1="1000.2" y1="676.65" x2="1004" y2="676.65" stroke="#1e1e1e" stroke-width="1.6"/>
<line x1="1000.2" y1="652.77" x2="1007.7" y2="652.77" stroke="#1e1e1e" stroke-width="1.6"/>
<text transform="translate(990.5 659.38) scale(1 1.09)" font-size="21.5" text-anchor="end" fill="#1c1c1c" stroke="#1c1c1c">0.04</text>
<line x1="1000.2" y1="628.9" x2="1004" y2="628.9" stroke="#1e1e1e" stroke-width="1.6"/>
<line x1="1000.2" y1="605.02" x2="1007.7" y2="605.02" stroke="#1e1e1e" stroke-width="1.6"/>
<text transform="translate(990.5 611.62) scale(1 1.09)" font-size="21.5" text-anchor="end" fill="#1c1c1c" stroke="#1c1c1c">0.06</text>
<line x1="1000.2" y1="581.15" x2="1004" y2="581.15" stroke="#1e1e1e" stroke-width="1.6"/>
<line x1="1000.2" y1="557.27" x2="1007.7" y2="557.27" stroke="#1e1e1e" stroke-width="1.6"/>
<text transform="translate(990.5 563.88) scale(1 1.09)" font-size="21.5" text-anchor="end" fill="#1c1c1c" stroke="#1c1c1c">0.08</text>
<line x1="1000.2" y1="533.4" x2="1004" y2="533.4" stroke="#1e1e1e" stroke-width="1.6"/>
<line x1="1000.2" y1="509.52" x2="1007.7" y2="509.52" stroke="#1e1e1e" stroke-width="1.6"/>
<text transform="translate(990.5 516.12) scale(1 1.09)" font-size="21.5" text-anchor="end" fill="#1c1c1c" stroke="#1c1c1c">0.10</text>
<line x1="1000.2" y1="485.65" x2="1004" y2="485.65" stroke="#1e1e1e" stroke-width="1.6"/>
<line x1="1000.2" y1="461.77" x2="1007.7" y2="461.77" stroke="#1e1e1e" stroke-width="1.6"/>
<text transform="translate(990.5 468.38) scale(1 1.09)" font-size="21.5" text-anchor="end" fill="#1c1c1c" stroke="#1c1c1c">0.12</text>
<line x1="1000.2" y1="437.9" x2="1004" y2="437.9" stroke="#1e1e1e" stroke-width="1.6"/>
<line x1="1524.4" y1="724.4" x2="1520.6" y2="724.4" stroke="#e0142e" stroke-width="1.6"/>
<line x1="1524.4" y1="705.31" x2="1516.9" y2="705.31" stroke="#e0142e" stroke-width="1.6"/>
<text transform="translate(1533.4 711.91) scale(1 1.09)" font-size="21.5" fill="#e0142e" stroke="#e0142e">1.65</text>
<line x1="1524.4" y1="686.21" x2="1520.6" y2="686.21" stroke="#e0142e" stroke-width="1.6"/>
<line x1="1524.4" y1="667.12" x2="1516.9" y2="667.12" stroke="#e0142e" stroke-width="1.6"/>
<text transform="translate(1533.4 673.72) scale(1 1.09)" font-size="21.5" fill="#e0142e" stroke="#e0142e">1.70</text>
<line x1="1524.4" y1="648.03" x2="1520.6" y2="648.03" stroke="#e0142e" stroke-width="1.6"/>
<line x1="1524.4" y1="628.94" x2="1516.9" y2="628.94" stroke="#e0142e" stroke-width="1.6"/>
<text transform="translate(1533.4 635.54) scale(1 1.09)" font-size="21.5" fill="#e0142e" stroke="#e0142e">1.75</text>
<line x1="1524.4" y1="609.85" x2="1520.6" y2="609.85" stroke="#e0142e" stroke-width="1.6"/>
<line x1="1524.4" y1="590.75" x2="1516.9" y2="590.75" stroke="#e0142e" stroke-width="1.6"/>
<text transform="translate(1533.4 597.35) scale(1 1.09)" font-size="21.5" fill="#e0142e" stroke="#e0142e">1.80</text>
<line x1="1524.4" y1="571.66" x2="1520.6" y2="571.66" stroke="#e0142e" stroke-width="1.6"/>
<line x1="1524.4" y1="552.57" x2="1516.9" y2="552.57" stroke="#e0142e" stroke-width="1.6"/>
<text transform="translate(1533.4 559.17) scale(1 1.09)" font-size="21.5" fill="#e0142e" stroke="#e0142e">1.85</text>
<line x1="1524.4" y1="533.47" x2="1520.6" y2="533.47" stroke="#e0142e" stroke-width="1.6"/>
<line x1="1524.4" y1="514.38" x2="1516.9" y2="514.38" stroke="#e0142e" stroke-width="1.6"/>
<text transform="translate(1533.4 520.98) scale(1 1.09)" font-size="21.5" fill="#e0142e" stroke="#e0142e">1.90</text>
<line x1="1524.4" y1="495.29" x2="1520.6" y2="495.29" stroke="#e0142e" stroke-width="1.6"/>
<line x1="1524.4" y1="476.2" x2="1516.9" y2="476.2" stroke="#e0142e" stroke-width="1.6"/>
<text transform="translate(1533.4 482.8) scale(1 1.09)" font-size="21.5" fill="#e0142e" stroke="#e0142e">1.95</text>
<line x1="1524.4" y1="457.1" x2="1520.6" y2="457.1" stroke="#e0142e" stroke-width="1.6"/>
<line x1="1524.4" y1="438.01" x2="1516.9" y2="438.01" stroke="#e0142e" stroke-width="1.6"/>
<text transform="translate(1533.4 444.61) scale(1 1.09)" font-size="21.5" fill="#e0142e" stroke="#e0142e">2.00</text>
<text x="1016.2" y="749.5" font-size="21.5" text-anchor="middle" fill="#1c1c1c" stroke="#1c1c1c">Pristine</text>
<text x="1180.3" y="749.5" font-size="21.5" text-anchor="middle" fill="#1c1c1c" stroke="#1c1c1c">1st_2.0 V</text>
<text x="1344.4" y="749.5" font-size="21.5" text-anchor="middle" fill="#1c1c1c" stroke="#1c1c1c">2nd_2.0 V</text>
<text x="1508.5" y="749.5" font-size="21.5" text-anchor="middle" fill="#1c1c1c" stroke="#1c1c1c">20th_2.0 V</text>
<text x="1267" y="797.9" font-size="25.6" text-anchor="middle" fill="#1c1c1c" stroke="#1c1c1c">Electrode samples</text>
<line x1="1024.27" y1="672.98" x2="1172.23" y2="474.42" stroke="#707070" stroke-width="1.7" stroke-dasharray="2 1.2" opacity="1.0"/>
<line x1="1193.8" y1="463.66" x2="1330.9" y2="464.24" stroke="#707070" stroke-width="1.7" stroke-dasharray="2 1.2" opacity="1.0"/>
<line x1="1357.72" y1="466.5" x2="1495.18" y2="489.2" stroke="#707070" stroke-width="1.7" stroke-dasharray="2 1.2" opacity="1.0"/>
<line x1="1024.74" y1="483.36" x2="1171.76" y2="663.54" stroke="#f25a74" stroke-width="1.7" stroke-dasharray="2 1.2" opacity="1.0"/>
<line x1="1193.79" y1="674.62" x2="1330.91" y2="680.88" stroke="#f25a74" stroke-width="1.7" stroke-dasharray="2 1.2" opacity="1.0"/>
<line x1="1357.87" y1="682.39" x2="1495.03" y2="691.51" stroke="#f25a74" stroke-width="1.7" stroke-dasharray="2 1.2" opacity="1.0"/>
<line x1="1180.3" y1="662" x2="1180.3" y2="686" stroke="#f50a0a" stroke-width="1.8"/>
<line x1="1175.8" y1="662" x2="1184.8" y2="662" stroke="#f50a0a" stroke-width="1.8"/>
<line x1="1175.8" y1="686" x2="1184.8" y2="686" stroke="#f50a0a" stroke-width="1.8"/>
<line x1="1344.4" y1="669.5" x2="1344.4" y2="693.5" stroke="#f50a0a" stroke-width="1.8"/>
<line x1="1339.9" y1="669.5" x2="1348.9" y2="669.5" stroke="#f50a0a" stroke-width="1.8"/>
<line x1="1339.9" y1="693.5" x2="1348.9" y2="693.5" stroke="#f50a0a" stroke-width="1.8"/>
<rect x="1007.3" y="674.9" width="17.8" height="17.8" fill="#000"/>
<rect x="1171.4" y="454.7" width="17.8" height="17.8" fill="#000"/>
<rect x="1335.5" y="455.4" width="17.8" height="17.8" fill="#000"/>
<rect x="1499.6" y="482.5" width="17.8" height="17.8" fill="#000"/>
<circle cx="1016.2" cy="472.9" r="10" fill="#f50a0a"/>
<circle cx="1180.3" cy="674" r="10" fill="#f50a0a"/>
<circle cx="1344.4" cy="681.5" r="10" fill="#f50a0a"/>
<circle cx="1508.5" cy="692.4" r="10" fill="#f50a0a"/>
<line x1="1141.2" y1="496.9" x2="1050.6" y2="496.9" stroke="#000" stroke-width="4.0" stroke-linecap="round"/>
<polyline points="1065.1,489.3 1050.6,496.9 1065.1,504.5" fill="none" stroke="#000" stroke-width="4.0" stroke-linecap="round" stroke-linejoin="round"/>
<line x1="1409.4" y1="662.5" x2="1499.5" y2="662.5" stroke="#ee0a14" stroke-width="4.0" stroke-linecap="round"/>
<polyline points="1485,654.9 1499.5,662.5 1485,670.1" fill="none" stroke="#ee0a14" stroke-width="4.0" stroke-linecap="round" stroke-linejoin="round"/>
<text transform="translate(918.5 582.2) rotate(-90)" font-size="25.5" text-anchor="middle" fill="#1c1c1c" stroke="#1c1c1c">TM occupancy</text>
<text transform="translate(1632 563.3) rotate(-90)" font-size="25.5" text-anchor="middle" fill="#e0142e" stroke="#e0142e">O occupancy <tspan dx="3" font-size="29" style="stroke-width:1.1px">×</tspan> <tspan dx="3">2</tspan></text>
<text x="879.3" y="428" font-size="46" fill="#000" stroke="#000">(c)</text>
</g>
</svg></body></html>
